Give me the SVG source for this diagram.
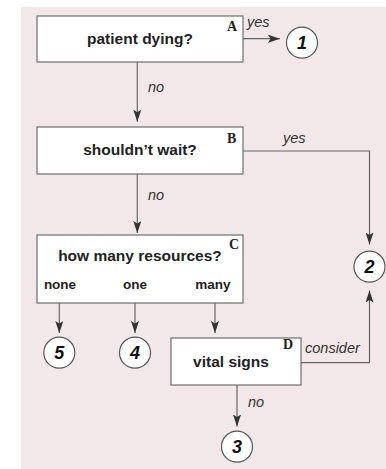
<svg xmlns="http://www.w3.org/2000/svg" width="386" height="469" viewBox="0 0 386 469">
<style>
.box{fill:#fff;stroke:#6e6e6e;stroke-width:1.2}
.circ{fill:#fff;stroke:#555;stroke-width:1.2}
.lbl{font-family:"Liberation Sans",Arial,sans-serif;font-weight:bold;font-size:15.5px;fill:#222;text-anchor:middle}
.sub{font-family:"Liberation Sans",Arial,sans-serif;font-weight:bold;font-size:13.5px;fill:#222;text-anchor:middle}
.let{font-family:"Liberation Serif","Times New Roman",serif;font-weight:bold;font-size:14px;fill:#222}
.edge{font-family:"Liberation Sans",Arial,sans-serif;font-style:italic;font-size:14.5px;fill:#333}
.num{font-family:"Liberation Sans",Arial,sans-serif;font-style:italic;font-weight:bold;font-size:18px;fill:#111;text-anchor:middle}
.ln{fill:none;stroke:#666;stroke-width:1.2}
</style>
<defs>
<marker id="ah" viewBox="0 0 12 8" refX="12" refY="4" markerWidth="12" markerHeight="8" markerUnits="userSpaceOnUse" orient="auto">
<path d="M0,0 L12,4 L0,8 L2.5,4 Z" fill="#333"/>
</marker>
</defs>
<rect x="21" y="7" width="365" height="462" fill="#f2e8ea"/>
<g id="connectors">
<path class="ln" d="M243,38.7 H280" marker-end="url(#ah)"/>
<text class="edge" x="247" y="27">yes</text>
<path class="ln" d="M137.3,62 V121.7" marker-end="url(#ah)"/>
<text class="edge" x="148" y="92">no</text>
<path class="ln" d="M243,151 H369.5 V244.5" marker-end="url(#ah)"/>
<text class="edge" x="283" y="143">yes</text>
<path class="ln" d="M137.3,174 V233" marker-end="url(#ah)"/>
<text class="edge" x="148" y="200">no</text>
<path class="ln" d="M59.3,303 V333" marker-end="url(#ah)"/>
<path class="ln" d="M135,303 V333" marker-end="url(#ah)"/>
<path class="ln" d="M215,303 V333" marker-end="url(#ah)"/>
<path class="ln" d="M301,362.7 H369.5 V290.5" marker-end="url(#ah)"/>
<text class="edge" x="305" y="353.3">consider</text>
<path class="ln" d="M237,385 V426.5" marker-end="url(#ah)"/>
<text class="edge" x="248" y="406.7">no</text>
</g>
<g id="A">
<rect class="box" x="37" y="16" width="206" height="46"/>
<text class="lbl" x="140" y="44">patient dying?</text>
<text class="let" x="227" y="30.5">A</text>
</g>
<g id="B">
<rect class="box" x="37" y="127" width="206" height="47"/>
<text class="lbl" x="140" y="155">shouldn’t wait?</text>
<text class="let" x="227" y="142.5">B</text>
</g>
<g id="C">
<rect class="box" x="37" y="235" width="206" height="68"/>
<text class="lbl" x="140" y="261">how many resources?</text>
<text class="let" x="229" y="249">C</text>
<text class="sub" x="60" y="289">none</text>
<text class="sub" x="135" y="289">one</text>
<text class="sub" x="213" y="289">many</text>
</g>
<g id="D">
<rect class="box" x="171" y="338" width="130" height="47"/>
<text class="lbl" x="231" y="366.7">vital signs</text>
<text class="let" x="283" y="349">D</text>
</g>
<g id="n1"><circle class="circ" cx="302" cy="42.7" r="15.5"/><text class="num" x="302" y="49">1</text></g>
<g id="n2"><circle class="circ" cx="369.5" cy="266.7" r="15.5"/><text class="num" x="369.5" y="273">2</text></g>
<g id="n3"><circle class="circ" cx="237" cy="446.7" r="15.5"/><text class="num" x="237" y="453">3</text></g>
<g id="n4"><circle class="circ" cx="135" cy="352.7" r="15.5"/><text class="num" x="135" y="359">4</text></g>
<g id="n5"><circle class="circ" cx="59.3" cy="352.7" r="15.5"/><text class="num" x="59.3" y="359">5</text></g>
</svg>
